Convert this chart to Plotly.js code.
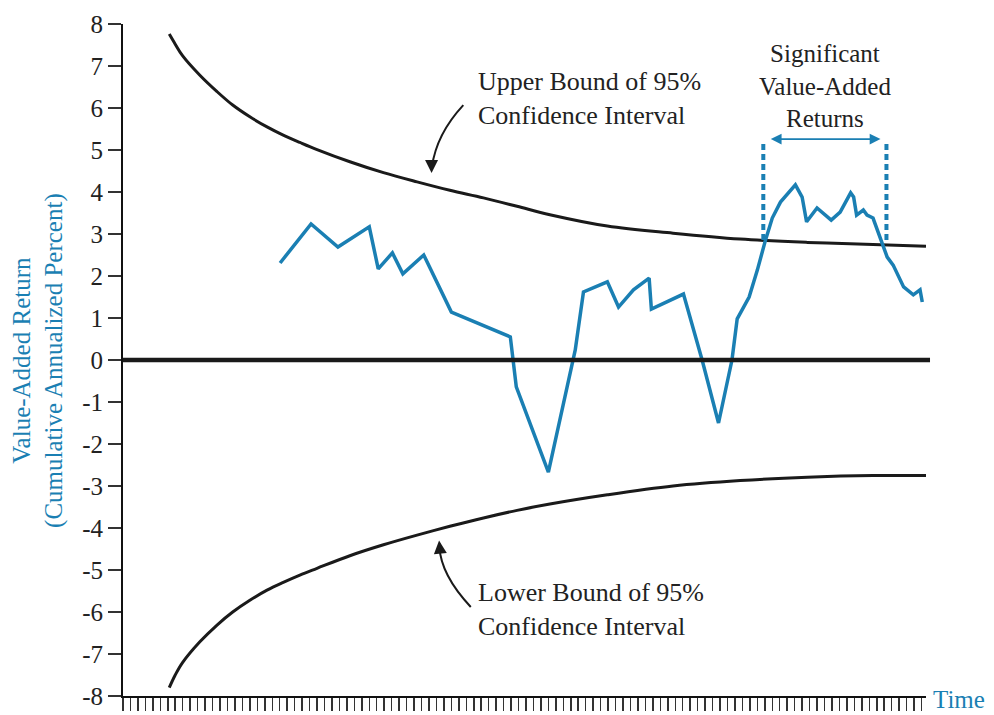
<!DOCTYPE html>
<html>
<head>
<meta charset="utf-8">
<script src="https://cdn.plot.ly/plotly-3.0.1.min.js"></script>
<style>html,body{margin:0;padding:0;background:#fff;}#chart{width:994px;height:715px;}</style>
</head>
<body>
<div id="chart"></div>
<script>
// Time index (tick units) and values
const boundTime = [6.2, 7.0, 8.0, 10.3, 12.6, 14.7, 17.0, 19.3, 21.4, 23.7, 26.0, 30.4, 34.9, 39.4, 43.8, 48.3, 52.8, 57.2, 64.9, 73.7, 82.7, 91.7, 100.5, 107.6];
const upperBound = [7.76, 7.52, 7.24, 6.78, 6.39, 6.07, 5.79, 5.55, 5.36, 5.18, 5.01, 4.72, 4.46, 4.24, 4.04, 3.86, 3.66, 3.46, 3.19, 3.02, 2.88, 2.80, 2.75, 2.71];
const lowerBound = [-7.80, -7.50, -7.20, -6.71, -6.31, -6.00, -5.72, -5.48, -5.30, -5.12, -4.96, -4.66, -4.40, -4.17, -3.96, -3.76, -3.58, -3.43, -3.21, -3.00, -2.87, -2.79, -2.75, -2.75];

const valueTime = [21.05, 25.2, 28.8, 33.0, 34.2, 36.1, 37.5, 40.3, 44.0, 51.9, 52.7, 57.0, 60.6, 61.7, 64.9, 66.4, 68.4, 70.5, 70.8, 75.1, 77.6, 79.8, 81.6, 82.3, 83.9, 85.0, 86.1, 87.0, 88.1, 90.1, 91.0, 91.6, 93.0, 94.9, 96.1, 97.5, 97.9, 98.3, 99.2, 99.7, 100.5, 101.5, 102.4, 103.2, 104.6, 105.9, 106.8, 107.1];
const valueAdded = [2.31, 3.24, 2.69, 3.17, 2.17, 2.55, 2.05, 2.50, 1.14, 0.55, -0.64, -2.67, 0.24, 1.62, 1.86, 1.26, 1.67, 1.95, 1.21, 1.57, 0.0, -1.50, 0.0, 0.98, 1.50, 2.14, 2.86, 3.38, 3.76, 4.17, 3.88, 3.29, 3.62, 3.33, 3.52, 3.98, 3.88, 3.45, 3.57, 3.45, 3.38, 2.86, 2.45, 2.26, 1.74, 1.55, 1.67, 1.38];

const sigStart = 85.8, sigEnd = 102.3;
const yTicks = [8, 7, 6, 5, 4, 3, 2, 1, 0, -1, -2, -3, -4, -5, -6, -7, -8];

const BLUE = '#1a7fb3';
const FONT = '"Liberation Serif", "Times New Roman", serif';

const traces = [
  {x: boundTime, y: upperBound, mode: 'lines', line: {color: '#1a1a1a', width: 3, shape: 'spline', smoothing: 1}, hoverinfo: 'skip'},
  {x: boundTime, y: lowerBound, mode: 'lines', line: {color: '#1a1a1a', width: 3, shape: 'spline', smoothing: 1}, hoverinfo: 'skip'},
  {x: valueTime, y: valueAdded, mode: 'lines', line: {color: BLUE, width: 3.5}, hoverinfo: 'skip'}
];

const layout = {
  width: 994, height: 715,
  margin: {l: 123, r: 68, t: 24, b: 19},
  paper_bgcolor: '#fff', plot_bgcolor: '#fff',
  showlegend: false,
  font: {family: FONT, size: 25, color: '#222'},
  xaxis: {
    range: [0, 107.6], showgrid: false, zeroline: false,
    showline: true, linecolor: '#111', linewidth: 2,
    ticks: 'outside', ticklen: 13, tickwidth: 1.5, tickcolor: '#333',
    tickmode: 'linear', tick0: 0, dtick: 1, showticklabels: false
  },
  yaxis: {
    range: [-8, 8], showgrid: false, zeroline: false,
    showline: true, linecolor: '#111', linewidth: 2,
    ticks: 'outside', ticklen: 13, tickwidth: 1.5, tickcolor: '#333',
    tickmode: 'array', tickvals: yTicks, ticktext: yTicks.map(String),
    tickfont: {family: FONT, size: 25, color: '#222'}
  },
  shapes: [
    {type: 'line', xref: 'paper', yref: 'y', x0: 0, x1: 1.005, y0: 0, y1: 0, line: {color: '#1a1a1a', width: 4.5}},
    {type: 'line', xref: 'x', yref: 'y', x0: sigStart, x1: sigStart, y0: 2.86, y1: 5.24, line: {color: BLUE, width: 4, dash: '6px,4px'}},
    {type: 'line', xref: 'x', yref: 'y', x0: sigEnd, x1: sigEnd, y0: 2.86, y1: 5.24, line: {color: BLUE, width: 4, dash: '6px,4px'}},
    {type: 'path', xref: 'x', yref: 'y', path: 'M 45.6 6.07 Q 42.0 5.38 41.4 4.60', line: {color: '#1a1a1a', width: 2}},
    {type: 'path', xref: 'x', yref: 'y', path: 'M 46.6 -5.88 Q 42.6 -5.12 42.4 -4.45', line: {color: '#1a1a1a', width: 2}}
  ],
  annotations: [
    {xref: 'x', yref: 'y', x: 47.3, y: 6.22, xanchor: 'left', yanchor: 'middle', align: 'left', showarrow: false,
     text: 'Upper Bound of 95%<br>Confidence Interval', font: {family: FONT, size: 26, color: '#222'}},
    {xref: 'x', yref: 'y', x: 47.3, y: -5.95, xanchor: 'left', yanchor: 'middle', align: 'left', showarrow: false,
     text: 'Lower Bound of 95%<br>Confidence Interval', font: {family: FONT, size: 26, color: '#222'}},
    {xref: 'x', yref: 'y', x: 94.0, y: 6.52, xanchor: 'center', yanchor: 'middle', align: 'center', showarrow: false,
     text: 'Significant<br>Value-Added<br>Returns', font: {family: FONT, size: 25, color: '#222'}},
    // double-headed arrow
    {xref: 'x', yref: 'y', axref: 'x', ayref: 'y', x: 101.5, y: 5.26, ax: 86.6, ay: 5.26, text: '', showarrow: true,
     arrowside: 'end+start', arrowhead: 2, arrowsize: 1.2, arrowwidth: 1.8, arrowcolor: BLUE},
    // arrowheads of curved pointers
    {xref: 'x', yref: 'y', x: 41.35, y: 4.45, ax: 0, ay: -10, text: '', showarrow: true, arrowhead: 2, arrowsize: 1.3, arrowwidth: 2, arrowcolor: '#1a1a1a'},
    {xref: 'x', yref: 'y', x: 42.35, y: -4.30, ax: 1, ay: 10, text: '', showarrow: true, arrowhead: 2, arrowsize: 1.3, arrowwidth: 2, arrowcolor: '#1a1a1a'},
    // y-axis title
    {xref: 'paper', yref: 'paper', x: -0.106, y: 0.5, xanchor: 'center', yanchor: 'middle', textangle: -90, showarrow: false,
     text: 'Value-Added Return<br>(Cumulative Annualized Percent)', font: {family: FONT, size: 25, color: BLUE}},
    // x-axis title
    {xref: 'paper', yref: 'paper', x: 1.007, y: -0.0275, xanchor: 'left', yanchor: 'bottom', borderpad: 0, showarrow: false,
     text: 'Time', font: {family: FONT, size: 25, color: BLUE}}
  ]
};

Plotly.newPlot('chart', traces, layout, {displayModeBar: false, staticPlot: true});
</script>
</body>
</html>
